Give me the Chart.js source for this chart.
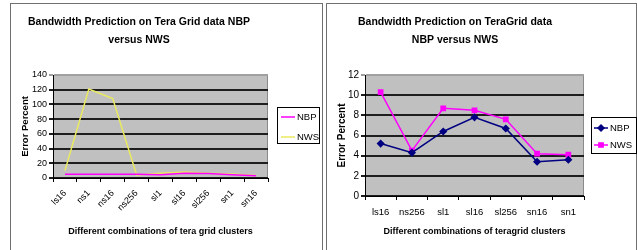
<!DOCTYPE html>
<html><head><meta charset="utf-8">
<script src="https://cdn.jsdelivr.net/npm/chart.js@4/dist/chart.umd.min.js"></script>
<style>
html,body{margin:0;padding:0;background:#fff;width:637px;height:250px;overflow:hidden}
.panel{position:absolute;border:1px solid #707070;border-bottom:none;box-sizing:border-box}
canvas{position:absolute}
</style></head><body>
<div class="panel" style="left:10px;top:3px;width:313px;height:247px"></div>
<div class="panel" style="left:326px;top:3px;width:311px;height:247px"></div>
<canvas id="c1" style="left:10px;top:3px" width="312" height="247"></canvas>
<canvas id="c2" style="left:326px;top:3px" width="311" height="247"></canvas>
<script>
// ---- data ----
const leftTitle = ['Bandwidth Prediction on Tera Grid data NBP', 'versus NWS'];
const leftCategories = ['ls16','ns1','ns16','ns256','sl1','sl16','sl256','sn1','sn16'];
const leftNBP = [5.2, 5, 5, 5, 4.5, 6.5, 6, 4.5, 3];
const leftNWS = [10, 121, 108, 4, 6.5, 8, 6.5, 5.5, 3.5];
const leftXTitle = 'Different combinations of tera grid clusters';

const rightTitle = ['Bandwidth Prediction on TeraGrid data', 'NBP versus NWS'];
const rightCategories = ['ls16','ns256','sl1','sl16','sl256','sn16','sn1'];
const rightNBP = [5.2, 4.3, 6.4, 7.8, 6.7, 3.4, 3.6];
const rightNWS = [10.3, 4.5, 8.7, 8.5, 7.6, 4.2, 4.1];
const rightXTitle = 'Different combinations of teragrid clusters';

const yTitle = 'Error Percent';
const seriesNames = ['NBP', 'NWS'];

// ---- styling ----
const FONT = "'Liberation Sans',Arial,sans-serif";
const PLOT_BG = '#c0c0c0';

const plotBg = {
  id: 'plotBg',
  beforeDraw(chart) {
    const {ctx, chartArea: a} = chart;
    ctx.save();
    ctx.fillStyle = PLOT_BG;
    ctx.fillRect(a.left, a.top, a.right - a.left, a.bottom - a.top);
    ctx.strokeStyle = '#8a8a8a';
    ctx.lineWidth = 1;
    ctx.strokeRect(a.left + 0.5, a.top + 0.5, a.right - a.left - 1, a.bottom - a.top);
    ctx.restore();
  }
};

const boxLegend = {
  id: 'boxLegend',
  afterDraw(chart, args, o) {
    const ctx = chart.ctx;
    ctx.save();
    ctx.fillStyle = '#fff';
    ctx.fillRect(o.x, o.y, o.w, o.h);
    ctx.strokeStyle = '#000';
    ctx.lineWidth = 1;
    ctx.strokeRect(o.x + 0.5, o.y + 0.5, o.w, o.h);
    chart.data.datasets.forEach((ds, i) => {
      const cy = o.y + o.rowTop + i * o.rowGap;
      const x0 = o.x + o.lineStart, x1 = x0 + o.lineLen;
      ctx.strokeStyle = ds.borderColor;
      ctx.lineWidth = ds.borderWidth;
      ctx.beginPath(); ctx.moveTo(x0, cy); ctx.lineTo(x1, cy); ctx.stroke();
      if (ds.pointRadius > 0) {
        ctx.fillStyle = ds.pointBackgroundColor;
        ctx.strokeStyle = ds.pointBorderColor;
        Chart.helpers.drawPoint(ctx, {pointStyle: ds.pointStyle, radius: ds.pointRadius, borderWidth: 1, rotation: 0}, (x0 + x1) / 2, cy);
      }
      ctx.fillStyle = '#000';
      ctx.font = '9.5px ' + FONT;
      ctx.textBaseline = 'middle';
      ctx.textAlign = 'left';
      ctx.fillText(ds.label, x1 + 2, cy);
    });
    ctx.restore();
  }
};

function makeChart(id, cfg) {
  const yMax = cfg.yMax;
  return new Chart(document.getElementById(id), {
    type: 'line',
    data: {labels: cfg.categories, datasets: cfg.datasets},
    options: {
      responsive: false, animation: false, devicePixelRatio: 1,
      layout: {padding: {left: 0, top: 0, right: cfg.padRight, bottom: 8}},
      plugins: {
        legend: {display: false}, tooltip: {enabled: false},
        title: {display: true, text: cfg.title, color: '#000',
          font: {family: FONT, size: 10.5, weight: 'bold', lineHeight: '18px'},
          padding: {top: 10, bottom: 26}},
        boxLegend: cfg.legend
      },
      scales: {
        x: {
          offset: true,
          grid: {display: true, drawOnChartArea: false, drawTicks: true, tickLength: 4, color: '#000', offset: true},
          border: {display: true, color: '#000', width: 1},
          ticks: {color: '#000', font: {family: FONT, size: cfg.xTickSize}, autoSkip: false,
            minRotation: cfg.rot, maxRotation: cfg.rot, padding: cfg.xTickPad},
          title: {display: true, text: cfg.xTitle, color: '#000',
            font: {family: FONT, size: 9, weight: 'bold', lineHeight: '14px'}, padding: {top: 0, bottom: 3}},
          afterFit(s) { s.height = cfg.xHeight; }
        },
        y: {
          min: 0, max: yMax,
          ticks: {stepSize: cfg.step, autoSkip: false, color: '#000', font: {family: FONT, size: cfg.yTickSize}, padding: 2},
          grid: {drawTicks: true, tickLength: 4, lineWidth: 2,
            color: c => (c.tick && c.tick.value === yMax) ? '#a0a0a0' : '#1e1e1e'},
          border: {display: true, color: '#000', width: 1},
          title: {display: true, text: yTitle, color: '#000',
            font: {family: FONT, size: cfg.yTitleSize, weight: 'bold', lineHeight: '14px'}, padding: {top: cfg.yTitlePad, bottom: 0}},
          afterFit(s) { s.width = cfg.yWidth; }
        }
      }
    },
    plugins: [plotBg, boxLegend]
  });
}

makeChart('c1', {
  categories: leftCategories,
  title: leftTitle, xTitle: leftXTitle,
  yMax: 140, step: 20, rot: 45, xTickSize: 9, xTickPad: 6, yTickSize: 9, yTitleSize: 9.5,
  padRight: 54, xHeight: 64, yWidth: 43, yTitlePad: 8,
  datasets: [
    {label: seriesNames[0], data: leftNBP, borderColor: '#ff00ff', backgroundColor: '#ff00ff', borderWidth: 1.5, pointRadius: 0, tension: 0},
    {label: seriesNames[1], data: leftNWS, borderColor: '#eaea60', backgroundColor: '#eaea60', borderWidth: 1.5, pointRadius: 0, tension: 0}
  ],
  legend: {x: 267, y: 104, w: 42, h: 36, rowTop: 10, rowGap: 20, lineStart: 4, lineLen: 14}
});

makeChart('c2', {
  categories: rightCategories,
  title: rightTitle, xTitle: rightXTitle,
  yMax: 12, step: 2, rot: 0, xTickSize: 9.5, xTickPad: 7, yTickSize: 10, yTitleSize: 10,
  padRight: 53, xHeight: 46, yWidth: 39, yTitlePad: 9,
  datasets: [
    {label: seriesNames[0], data: rightNBP, borderColor: '#000080', backgroundColor: '#000080', borderWidth: 1.5,
      pointStyle: 'rectRot', pointRadius: 3, pointBackgroundColor: '#000080', pointBorderColor: '#000080', tension: 0},
    {label: seriesNames[1], data: rightNWS, borderColor: '#ff00ff', backgroundColor: '#ff00ff', borderWidth: 1.5,
      pointStyle: 'rect', pointRadius: 3, pointBackgroundColor: '#ff00ff', pointBorderColor: '#ff00ff', tension: 0}
  ],
  legend: {x: 265, y: 114, w: 45, h: 36, rowTop: 11, rowGap: 17, lineStart: 3, lineLen: 14}
});
</script>
</body></html>
